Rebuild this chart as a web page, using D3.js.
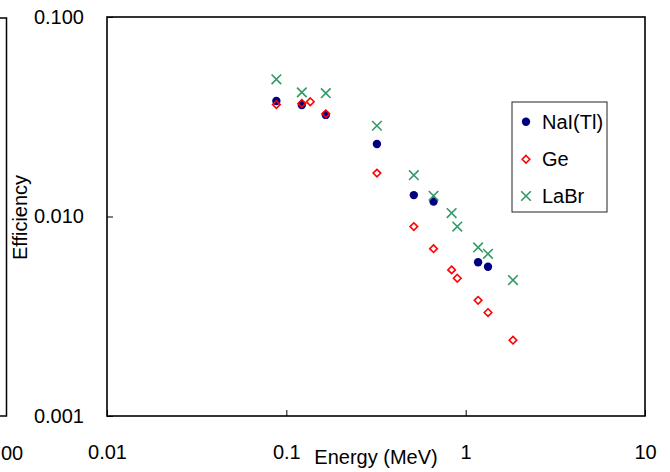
<!DOCTYPE html>
<html>
<head>
<meta charset="utf-8">
<script src="https://cdn.jsdelivr.net/npm/d3@7"></script>
<style>
  html, body { margin: 0; padding: 0; background: #fff; }
  svg { display: block; font-family: "Liberation Sans", Arial, sans-serif; }
</style>
</head>
<body>
<svg id="chart" width="670" height="472"></svg>
<script>
// ---- Data ----
const naiEnergy = [0.088, 0.122, 0.166, 0.320, 0.514, 0.662, 1.173, 1.332];
const naiEff    = [0.0379, 0.0362, 0.0323, 0.0231, 0.0128, 0.0119, 0.0059, 0.0056];

const geEnergy = [0.088, 0.122, 0.136, 0.166, 0.320, 0.514, 0.662, 0.835, 0.898, 1.173, 1.332, 1.836];
const geEff    = [0.0364, 0.0369, 0.0376, 0.0327, 0.0165, 0.0089, 0.0069, 0.0054, 0.0049, 0.0038, 0.0033, 0.0024];

const labrEnergy = [0.088, 0.122, 0.166, 0.320, 0.514, 0.662, 0.835, 0.898, 1.173, 1.332, 1.836];
const labrEff    = [0.0487, 0.0419, 0.0415, 0.0285, 0.0161, 0.0127, 0.0104, 0.0089, 0.0070, 0.0065, 0.0048];

const xTicks = [0.01, 0.1, 1, 10];
const xTickLabels = ["0.01", "0.1", "1", "10"];
const yTicks = [0.001, 0.01, 0.1];
const yTickLabels = ["0.001", "0.010", "0.100"];
const seriesNames = ["NaI(Tl)", "Ge", "LaBr"];

// ---- Layout ----
const svg = d3.select("#chart");
const L = 107, R = 645, T = 17, B = 416;
const x = d3.scaleLog().domain([0.01, 10]).range([L, R]);
const y = d3.scaleLog().domain([0.001, 0.1]).range([B, T]);

// partial neighbouring chart at the far left (cut off in the reference)
svg.append("path")
  .attr("d", `M0,18 H6.5 V416 H0`)
  .attr("fill", "none").attr("stroke", "#000").attr("stroke-width", 1.5);
svg.append("text").attr("x", 1).attr("y", 460).attr("text-anchor", "start")
  .attr("font-size", 20).attr("fill", "#000").text("00");

// axes
const xAxis = d3.axisBottom(x).tickValues(xTicks)
  .tickFormat((d, i) => xTickLabels[i]).tickSizeInner(-6).tickSizeOuter(0).tickPadding(29);
const gx = svg.append("g").attr("transform", `translate(0,${B})`).call(xAxis);
gx.select(".domain").remove();
gx.selectAll("text").attr("font-size", 20).attr("font-family", "Liberation Sans, Arial, sans-serif").attr("fill", "#000");
gx.selectAll("line").attr("stroke", "#000");

const yAxis = d3.axisLeft(y).tickValues(yTicks)
  .tickFormat((d, i) => yTickLabels[i]).tickSizeInner(-6).tickSizeOuter(0).tickPadding(23);
const gy = svg.append("g").attr("transform", `translate(${L},0)`).call(yAxis);
gy.select(".domain").remove();
gy.selectAll("text").attr("font-size", 20).attr("font-family", "Liberation Sans, Arial, sans-serif").attr("fill", "#000");
gy.selectAll("line").attr("stroke", "#000");

// frame
svg.append("rect").attr("x", L).attr("y", T).attr("width", R - L).attr("height", B - T)
  .attr("fill", "none").attr("stroke", "#000").attr("stroke-width", 1.6);

// axis titles
svg.append("text").attr("x", (L + R) / 2).attr("y", 464).attr("text-anchor", "middle")
  .attr("font-size", 20).attr("fill", "#000").text("Energy (MeV)");
svg.append("text").attr("transform", `translate(27,${(T + B) / 2 + 1}) rotate(-90)`)
  .attr("text-anchor", "middle").attr("font-size", 20).attr("fill", "#000").text("Efficiency");

// markers
const cNai = "#000080", cGe = "#ff0000", cLabr = "#339966";
function drawCircle(g, cx, cy) {
  g.append("circle").attr("cx", cx).attr("cy", cy).attr("r", 4.2).attr("fill", cNai);
}
function drawDiamond(g, cx, cy) {
  const s = 3.8;
  g.append("path").attr("d", `M${cx},${cy - s}L${cx + s},${cy}L${cx},${cy + s}L${cx - s},${cy}Z`)
    .attr("fill", "none").attr("stroke", cGe).attr("stroke-width", 1.6);
}
function drawCross(g, cx, cy) {
  const s = 4.8;
  g.append("path").attr("d", `M${cx - s},${cy - s}L${cx + s},${cy + s}M${cx - s},${cy + s}L${cx + s},${cy - s}`)
    .attr("fill", "none").attr("stroke", cLabr).attr("stroke-width", 1.6);
}

const gPts = svg.append("g");
naiEnergy.forEach((e, i) => drawCircle(gPts, x(e), y(naiEff[i])));
geEnergy.forEach((e, i) => drawDiamond(gPts, x(e), y(geEff[i])));
labrEnergy.forEach((e, i) => drawCross(gPts, x(e), y(labrEff[i])));

// legend
const lg = svg.append("g");
lg.append("rect").attr("x", 512).attr("y", 102).attr("width", 95).attr("height", 110)
  .attr("fill", "#fff").attr("stroke", "#222").attr("stroke-width", 1);
const rows = [121.7, 159.3, 196];
const drawers = [drawCircle, drawDiamond, drawCross];
seriesNames.forEach((n, i) => {
  drawers[i](lg, 526, rows[i]);
  lg.append("text").attr("x", 542).attr("y", rows[i]).attr("dy", "0.35em")
    .attr("font-size", 20).attr("fill", "#000").text(n);
});
</script>
</body>
</html>
